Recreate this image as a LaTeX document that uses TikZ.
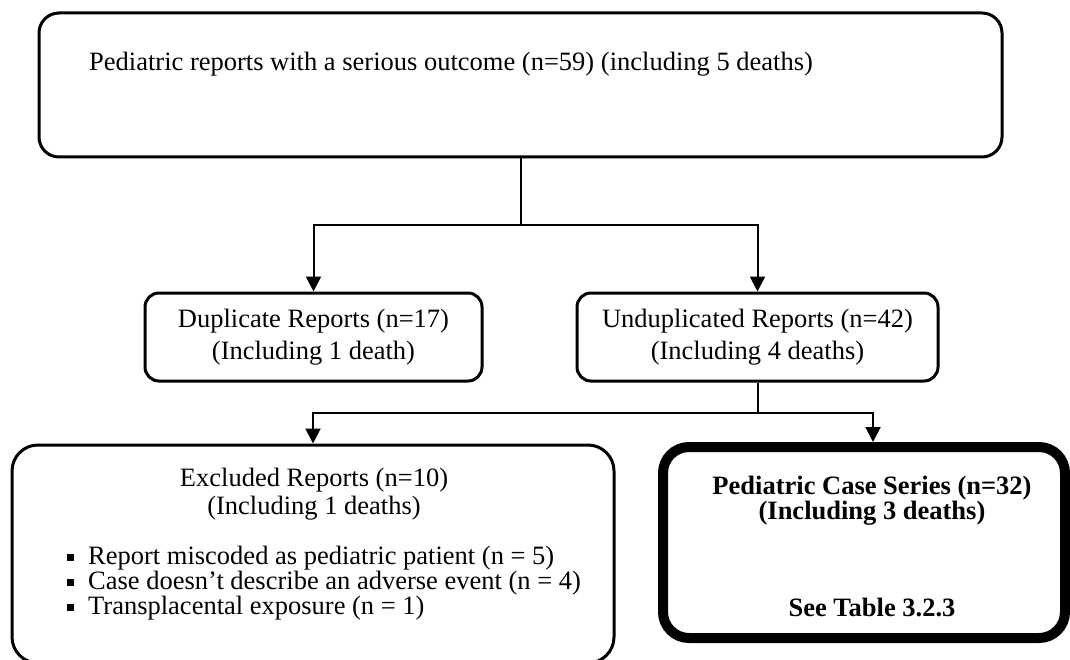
\documentclass[tikz,border=0pt]{standalone}
\usepackage{fontspec}
\setmainfont{Liberation Serif}
\usetikzlibrary{arrows.meta}
\begin{document}
\begin{tikzpicture}[x=1pt,y=-1pt,
  box/.style={draw=black, line width=3pt, rounded corners=#1, inner sep=0pt},
  box/.default=14pt,
  conn/.style={draw=black, line width=2pt},
  arr/.style={conn, -{Triangle[length=15pt,width=15pt]}},
  txt/.style={font=\fontsize{26.5}{32}\selectfont, inner sep=0pt, align=center}
]
\useasboundingbox (0,0) rectangle (1070,660);
\clip (0,0) rectangle (1070,660);
\fill[white] (0,0) rectangle (1070,660);

% top box
\node[box=20pt, minimum width=963pt, minimum height=144pt] (top) at (520.5,85) {};
\node[txt, anchor=base west] (toptext) at (89,71) {Pediatric reports with a serious outcome (n=59) (including 5 deaths)};

% second level
\node[box, minimum width=337pt, minimum height=88pt, txt] (dup) at (313.5,337)
  {Duplicate Reports (n=17)\\(Including 1 death)};
\node[box, minimum width=361pt, minimum height=88pt, txt] (undup) at (757.5,337)
  {Unduplicated Reports (n=42)\\(Including 4 deaths)};

% third level
\node[box=26pt, minimum width=602pt, minimum height=218pt] (excl) at (313,554) {};
\node[txt, font=\fontsize{26.5}{28}\selectfont] (excltitle) at (314,494)
  {Excluded Reports (n=10)\\(Including 1 deaths)};
\node[txt, font=\fontsize{26.5}{25}\selectfont, align=left, anchor=west] (exclitems) at (67,583)
  {\raisebox{3pt}{\rule{7pt}{7pt}}\hspace{14pt}Report miscoded as pediatric patient (n = 5)\\
   \raisebox{3pt}{\rule{7pt}{7pt}}\hspace{14pt}Case doesn’t describe an adverse event (n = 4)\\
   \raisebox{3pt}{\rule{7pt}{7pt}}\hspace{14pt}Transplacental exposure (n = 1)};

\node[draw=black, line width=10pt, rounded corners=26pt, inner sep=0pt,
      minimum width=402pt, minimum height=191pt] (case) at (864,542.5) {};
\node[txt, font=\fontsize{26.5}{25}\selectfont\bfseries] (casetitle) at (872,500.5)
  {Pediatric Case Series (n=32)\\(Including 3 deaths)};
\node[txt, font=\fontsize{26.5}{25}\selectfont\bfseries] (casesee) at (872,607)
  {See Table 3.2.3};

% connectors
\coordinate (j1) at (520.5,225);
\coordinate (j2) at (757.5,413);
\draw[conn] (top.south) -- (j1);
\draw[arr] (j1) -| (dup.north);
\draw[arr] (j1) -| (undup.north);
\draw[conn] (undup.south) -- (j2);
\draw[arr] (j2) -| (excl.north);
\draw[arr] (j2) -| ([xshift=9pt]case.north);
\end{tikzpicture}
\end{document}
